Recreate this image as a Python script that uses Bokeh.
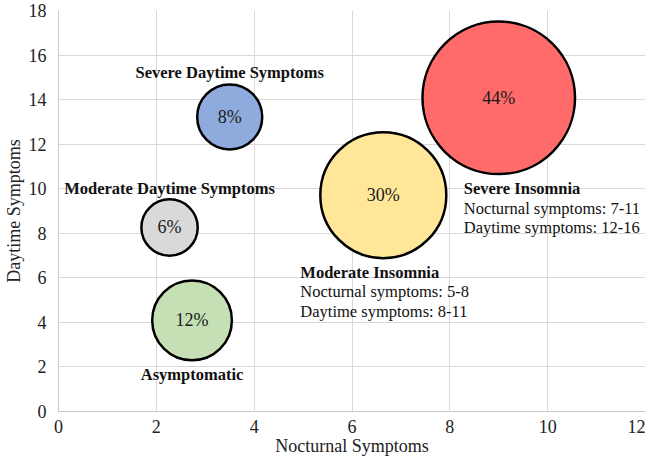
import numpy as np
from bokeh.plotting import figure
from bokeh.models import ColumnDataSource, Range1d, FixedTicker
from bokeh.core.properties import value
from bokeh.embed import file_html
from bokeh.resources import INLINE

# ---- data ----
groups = ["Severe Daytime Symptoms", "Moderate Daytime Symptoms", "Asymptomatic",
          "Moderate Insomnia", "Severe Insomnia"]
nocturnal = [3.50, 2.27, 2.73, 6.64, 9.00]
daytime = [13.22, 8.26, 4.09, 9.71, 14.08]
percent = [8, 6, 12, 30, 44]
nocturnal_range = ["", "", "", "5-8", "7-11"]
daytime_range = ["", "", "", "8-11", "12-16"]
x_ticks = [0, 2, 4, 6, 8, 10, 12]
y_ticks = [0, 2, 4, 6, 8, 10, 12, 14, 16, 18]

# ---- styles ----
colors = ["#8FAADC", "#D9D9D9", "#C5E0B4", "#FFE699", "#FF6B6B"]
label_dx = [0, 0, 0, -83, -35]
label_dy = [-44, -39, 54, 77, 91]
label_align = ["center", "center", "center", "left", "left"]
FONT = "Liberation Serif"

sizes = [23.0 * np.sqrt(v) for v in percent]

src = ColumnDataSource(dict(
    x=nocturnal, y=daytime, pct=[f"{v}%" for v in percent], size=sizes, color=colors,
    name=groups, dx=label_dx, dy=label_dy, align=label_align,
    dy1=[d + 19.5 for d in label_dy], dy2=[d + 39 for d in label_dy],
    l1=[f"Nocturnal symptoms: {r}" if r else "" for r in nocturnal_range],
    l2=[f"Daytime symptoms: {r}" if r else "" for r in daytime_range],
))

p = figure(width=645, height=458, output_backend="svg", toolbar_location=None,
           x_range=Range1d(0, 12), y_range=Range1d(0, 18),
           min_border_top=10, min_border_right=0, min_border_left=0, min_border_bottom=0)
p.outline_line_color = None
p.background_fill_color = "white"

for ax in (p.xaxis[0], p.yaxis[0]):
    ax.major_tick_line_color = None
    ax.minor_tick_line_color = None
    ax.axis_line_color = "#C8C8C8"
    ax.major_label_text_font = FONT
    ax.major_label_text_font_size = "18px"
    ax.major_label_text_color = "#222222"
    ax.axis_label_text_font = FONT
    ax.axis_label_text_font_size = "18px"
    ax.axis_label_text_font_style = "normal"
    ax.axis_label_text_color = "#222222"

p.xaxis.ticker = FixedTicker(ticks=x_ticks)
p.yaxis.ticker = FixedTicker(ticks=y_ticks)
p.xaxis.axis_label = "Nocturnal Symptoms"
p.yaxis.axis_label = "Daytime Symptoms"
p.xaxis.major_label_standoff = 2
p.xaxis.axis_label_standoff = 0
p.yaxis.major_label_standoff = 6
p.yaxis.axis_label_standoff = 2
p.xgrid.grid_line_color = "#D9D9D9"
p.ygrid.grid_line_color = "#D9D9D9"

p.scatter("x", "y", size="size", fill_color="color", line_color="black",
          line_width=2.5, source=src)

p.text("x", "y", text="pct", source=src, text_font=value(FONT), text_font_size="18px",
       text_align="center", text_baseline="middle", text_color="#1a1a1a")

p.text("x", "y", text="name", source=src, x_offset="dx", y_offset="dy",
       text_font=value(FONT), text_font_size="16.5px", text_font_style="bold",
       text_align="align", text_baseline="middle", text_color="#111111")
p.text("x", "y", text="l1", source=src, x_offset="dx", y_offset="dy1",
       text_font=value(FONT), text_font_size="16.5px",
       text_align="align", text_baseline="middle", text_color="#111111")
p.text("x", "y", text="l2", source=src, x_offset="dx", y_offset="dy2",
       text_font=value(FONT), text_font_size="16.5px",
       text_align="align", text_baseline="middle", text_color="#111111")

open("out.html", "w").write(file_html(p, INLINE))
